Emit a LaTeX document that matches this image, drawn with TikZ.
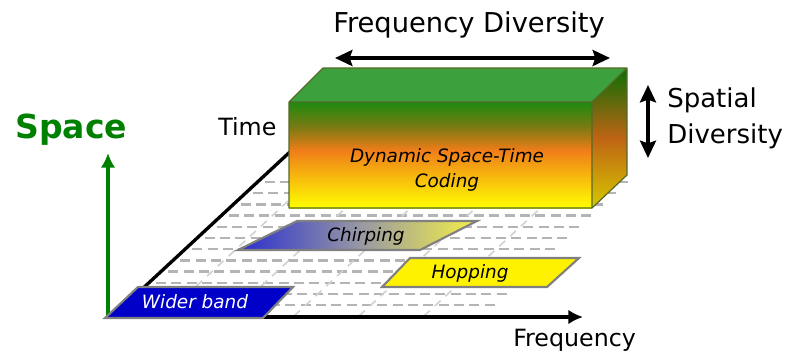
\documentclass[tikz,border=0pt]{standalone}
\usepackage{fontspec}
\setmainfont{DejaVu Sans}
\usetikzlibrary{arrows.meta}

\definecolor{axisgreen}{RGB}{0,128,0}
\definecolor{topgreen}{RGB}{60,160,60}
\definecolor{deepgreen}{RGB}{30,138,15}
\definecolor{olivemix}{RGB}{120,122,18}
\definecolor{boxorange}{RGB}{240,125,25}
\definecolor{sidegreen}{RGB}{10,110,5}
\definecolor{sidebrown}{RGB}{190,100,20}
\definecolor{sideyellow}{RGB}{215,200,0}
\definecolor{boxedge}{RGB}{85,105,40}
\definecolor{gridgray}{RGB}{180,180,180}
\definecolor{bandblue}{RGB}{0,0,200}
\definecolor{chirpblue}{RGB}{40,45,205}
\definecolor{chirpgray}{RGB}{150,150,165}
\definecolor{chirpyellow}{RGB}{245,240,70}

\tikzset{
  bigtext/.style={inner sep=0, anchor=base west, font=\fontsize{20.5}{24}\selectfont},
  sidetext/.style={inner sep=0, anchor=base west, font=\fontsize{19.5}{23}\selectfont},
  axistext/.style={inner sep=0, anchor=base west, font=\fontsize{17.8}{21}\selectfont},
  bandtext/.style={inner sep=0, font=\fontsize{13.8}{18.75}\selectfont\itshape},
  band/.style={draw=gray, line width=1.6pt},
  gridrow/.style={draw=gridgray, line width=1.8pt, dash pattern=on 7.5pt off 4pt},
  griddiag/.style={draw=black!18, line width=1.2pt, dash pattern=on 6pt off 5pt},
  axis/.style={draw, line width=3pt, -{Latex[length=11pt,width=11pt]}},
  twoway/.style={draw, line width=3pt, {Stealth[length=13pt,width=12pt,inset=2pt]}-{Stealth[length=13pt,width=12pt,inset=2pt]}}
  }

\begin{document}
\begin{tikzpicture}[x=0.75pt, y=-0.75pt]
	\useasboundingbox (0,0) rectangle (789,355);

	% Floor grid
	\foreach \k in {0,...,11} {
		\pgfmathsetmacro{\yy}{182+11.2*\k}
		\pgfmathsetmacro{\xl}{265-(\yy-182)*1.08}
		\draw[gridrow] (\xl,\yy) -- ++(367,0);
	}
	\foreach \b in {164,229,294,359,424}
		\draw[griddiag] (\b,316) -- ++(144.7,-134);

	% Axes
	\coordinate (origin) at (108,317);
	\coordinate (timeend) at (292,150);
	\coordinate (freqend) at (583,317);
	\coordinate (spaceend) at (108,153);
	\draw[line width=2.5pt] (112,317) -- (timeend);
	\draw[axis] (origin) -- (freqend);
	\draw[axis, axisgreen, line width=2.4pt] (origin) -- (spaceend);

	% Block
	\fill[topgreen] (289,102) -- (323,68) -- (627,68) -- (592,102) -- cycle;
	\shade[top color=sidegreen, bottom color=sideyellow, middle color=sidebrown]
		(592,102) -- (627,68) -- (627,175) -- (592,208) -- cycle;
	\shade[top color=deepgreen, bottom color=boxorange, middle color=olivemix]
		(289,102) rectangle (592,150.5);
	\shade[top color=boxorange, bottom color=yellow]
		(289,150) rectangle (592,208);
	\draw[boxedge, line width=0.9pt, line join=round]
		(289,208) -- (289,102) -- (323,68) -- (627,68) -- (627,175) -- (592,208) -- cycle
		(289,102) -- (592,102) -- (627,68) (592,102) -- (592,208);
	\node[bandtext, align=center] (coding) at (447,170) {Dynamic Space-Time\\Coding};

	% Bands
	\fill[bandblue] (105,318) -- (138,287) -- (293,287) -- (263,318) -- cycle;
	\draw[band] (105,318) -- (138,287) -- (293,287) -- (263,318) -- cycle;
	\shade[left color=chirpblue, right color=chirpyellow, middle color=chirpgray]
		(238,250) -- (297,221) -- (477,221) -- (420,250) -- cycle;
	\draw[band] (238,250) -- (297,221) -- (477,221) -- (420,250) -- cycle;
	\fill[yellow] (382,287) -- (410,258) -- (579,258) -- (547,287) -- cycle;
	\draw[band] (382,287) -- (410,258) -- (579,258) -- (547,287) -- cycle;
	\node[bandtext, white] (wider) at (195,302) {Wider band};
	\node[bandtext] (chirp) at (366,236) {Chirping};
	\node[bandtext] (hop) at (470,273) {Hopping};

	% Labels
	\node[bigtext] (freqdiv) at (333,32) {Frequency Diversity};
	\node[sidetext] (spatial) at (667,107) {Spatial};
	\node[sidetext] (diversity) at (667,143) {Diversity};
	\node[axistext] (time) at (218,135) {Time};
	\node[axistext] (freq) at (513,346) {Frequency};
	\node[inner sep=0, anchor=base west, axisgreen, font=\fontsize{24.8}{28}\selectfont\bfseries] (space) at (15,138) {Space};

	% Diversity arrows
	\coordinate (fdleft) at (335,58);
	\coordinate (fdright) at (610,58);
	\coordinate (sdtop) at (648,85);
	\coordinate (sdbottom) at (648,158);
	\draw[twoway] (fdleft) -- (fdright);
	\draw[twoway, line width=2.6pt] (sdtop) -- (sdbottom);

\end{tikzpicture}
\end{document}
